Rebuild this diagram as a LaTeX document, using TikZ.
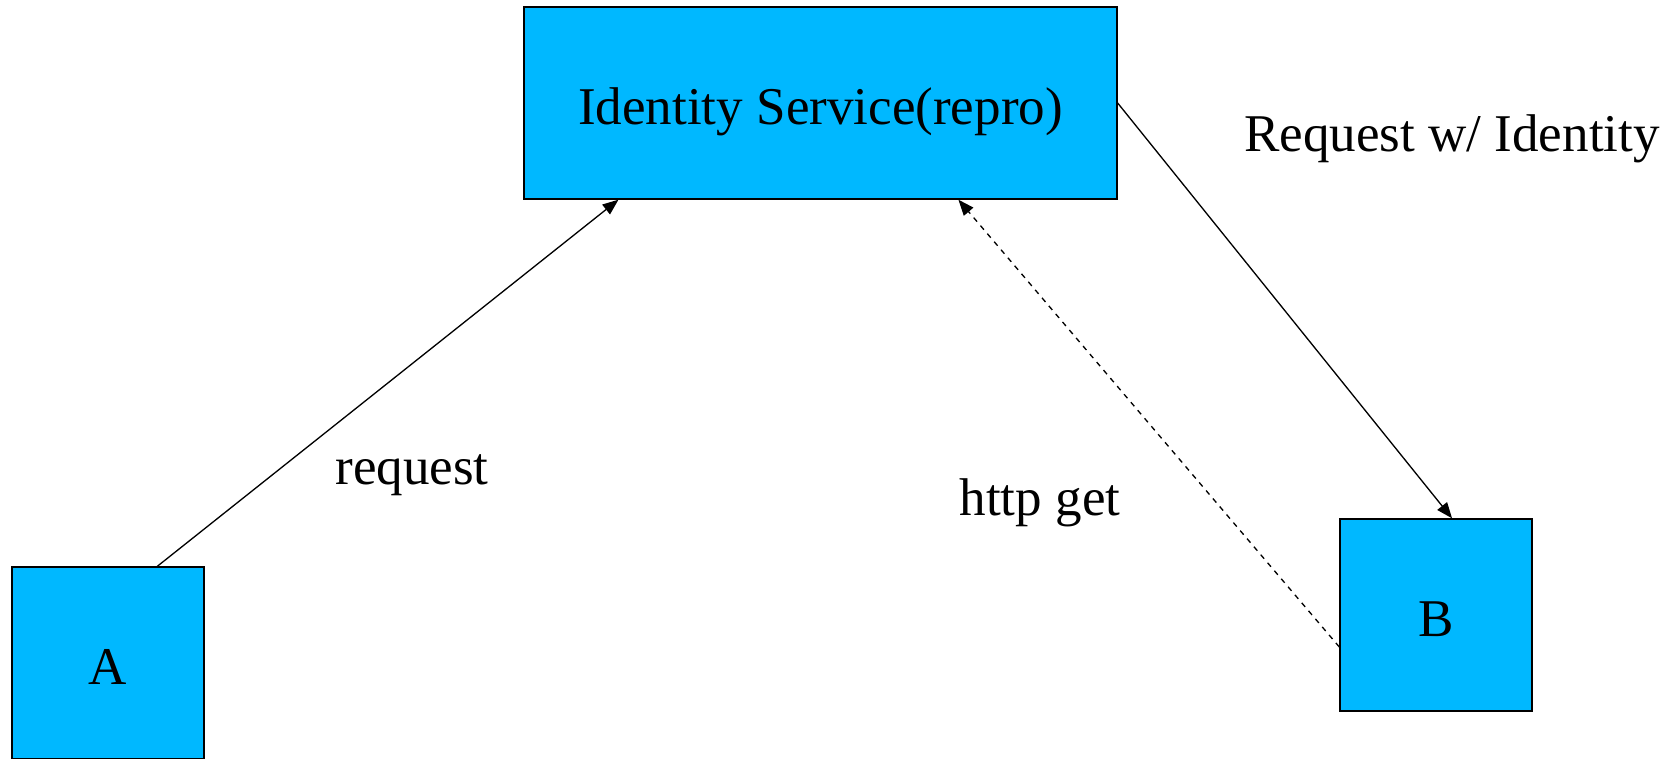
\documentclass[tikz,border=0pt]{standalone}
\usepackage{fontspec}
\setmainfont{Liberation Serif}
\usepackage{tikz}
\usetikzlibrary{positioning, arrows.meta, calc}
\definecolor{boxfill}{RGB}{0,184,255}

\begin{document}
\begin{tikzpicture}[
        x=0.02cm, y=-0.02cm,
        box/.style={draw=black, rectangle, fill=boxfill, line width=0.8pt, inner sep=0pt, text height=25pt, text depth=0pt, font=\fontsize{30.2}{36}\selectfont},
        conn/.style={draw, line width=0.75pt, -{Triangle[length=9pt, width=7pt]}},
        lbl/.style={font=\fontsize{30.2}{36}\selectfont, inner sep=0pt, text height=18pt, text depth=0pt}
    ]
    \path[use as bounding box] (0,0) rectangle (1679,759);

    \node[box, minimum width=11.86cm, minimum height=3.84cm] (ids) at (820.5,103) {Identity Service(repro)};
    \node[box, minimum width=3.84cm, minimum height=3.84cm] (a) at (108,663) {A};
    \node[box, minimum width=3.84cm, minimum height=3.84cm] (b) at (1436,615) {B};

    \node[lbl] (req) at (412,469) {request};
    \node[lbl] (get) at (1040,500) {http get};
    \node[lbl] (reqid) at (1452,136) {Request w/ Identity};

    \draw[conn] ($(a.north west)!0.755!(a.north east)$) -- ($(ids.south west)!0.16!(ids.south east)$);
    \draw[conn] (ids.east) -- ($(b.north west)!0.583!(b.north east)$);
    \draw[conn, dashed] ($(b.west)+(0,32)$) -- ($(ids.south west)!0.732!(ids.south east)$);
\end{tikzpicture}
\end{document}
